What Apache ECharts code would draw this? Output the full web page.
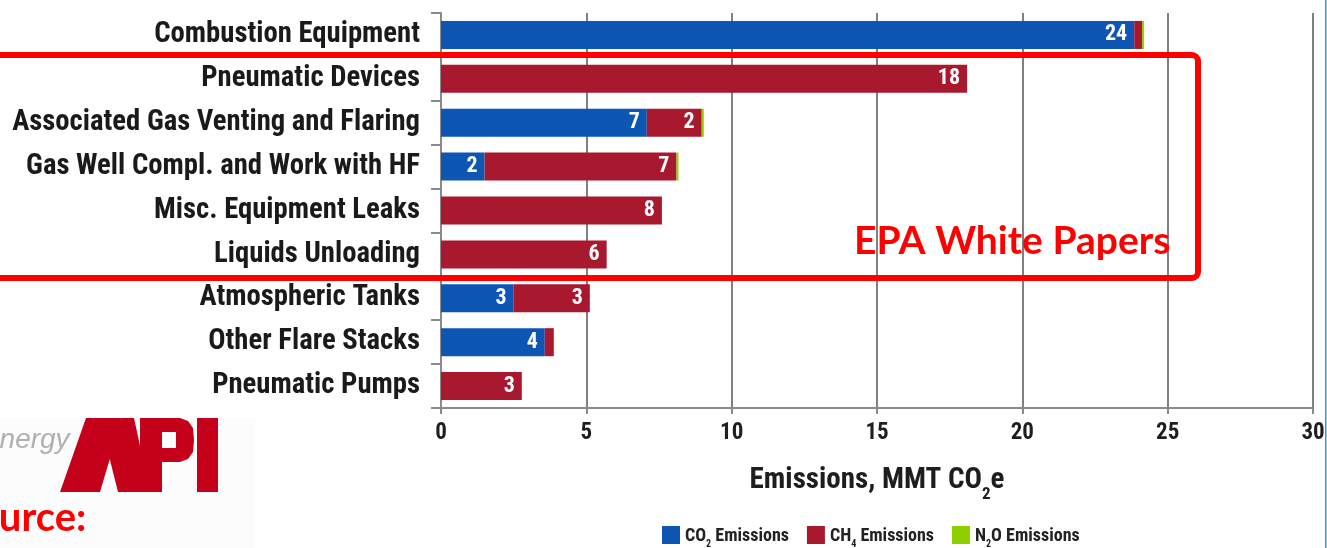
<!DOCTYPE html>
<html><head><meta charset="utf-8">
<script src="https://cdn.jsdelivr.net/npm/echarts@6/dist/echarts.min.js"></script>
<style>html,body{margin:0;padding:0;background:#fff}#c{width:1327px;height:548px}</style>
</head><body><div id="c"></div>
<script>
const categories = ["Combustion Equipment","Pneumatic Devices","Associated Gas Venting and Flaring","Gas Well Compl. and Work with HF","Misc. Equipment Leaks","Liquids Unloading","Atmospheric Tanks","Other Flare Stacks","Pneumatic Pumps"];
const co2 = [23.85, 0, 7.08, 1.5, 0, 0, 2.5, 3.57, 0];
const ch4 = [0.27, 18.1, 1.89, 6.6, 7.6, 5.7, 2.62, 0.31, 2.78];
const n2o = [0.07, 0, 0.07, 0.07, 0, 0, 0, 0, 0];
const xTicks = [0, 5, 10, 15, 20, 25, 30];
const seriesNames = ["CO2 Emissions","CH4 Emissions","N2O Emissions"];

const FONT = '"Roboto Condensed","DejaVu Sans Condensed",sans-serif';
const colors = ['#0d56b4','#a8182e','#8fcf00'];
const chart = echarts.init(document.getElementById('c'));
const lbl = {
  show: true, position: 'insideRight', distance: 7, color: '#fff',
  fontFamily: FONT, fontWeight: 'bold', fontSize: 22,
  formatter: p => p.value >= 1 ? String(Math.round(p.value)) : ''
};
function mk(name, data, i, label) {
  return { name, type: 'bar', stack: 't', data, barWidth: 28,
    itemStyle: { color: colors[i] }, label: label ? lbl : { show: false }, silent: true };
}
chart.setOption({
  animation: false,
  grid: { left: 441, right: 14, top: 13, bottom: 140, containLabel: false, outerBoundsMode: 'none' },
  xAxis: {
    type: 'value', min: 0, max: 30, interval: 5,
    axisLine: { show: true, lineStyle: { color: '#8a8a8a', width: 2 } },
    axisTick: { show: true, length: 6, lineStyle: { color: '#8a8a8a', width: 2 } },
    splitLine: { show: true, lineStyle: { color: '#808080', width: 2 } },
    axisLabel: { color: '#1e1e1e', fontFamily: FONT, fontWeight: 'bold', fontSize: 23, margin: 14,
      formatter: v => xTicks.includes(v) ? String(v) : '' },
    name: '{a|Emissions, MMT CO}{s|2}{a|e}', nameLocation: 'middle', nameGap: 55,
    nameTextStyle: { rich: {
      a: { fontFamily: FONT, fontWeight: 'bold', fontSize: 29, color: '#1e1e1e', verticalAlign: 'bottom', lineHeight: 32 },
      s: { fontFamily: FONT, fontWeight: 'bold', fontSize: 17, color: '#1e1e1e', verticalAlign: 'bottom', lineHeight: 32, padding: [0,0,-8,0] }
    } }
  },
  yAxis: {
    type: 'category', data: categories, inverse: true,
    axisLine: { show: true, lineStyle: { color: '#8a8a8a', width: 2 } },
    axisTick: { show: true, length: 10, lineStyle: { color: '#8a8a8a', width: 2 } },
    axisLabel: { color: '#1a1a1a', fontFamily: FONT, fontWeight: 'bold', fontSize: 28.7, margin: 21 }
  },
  legend: {
    top: 521, left: 657, itemWidth: 18, itemHeight: 18, itemGap: 18, icon: 'rect',
    data: seriesNames,
    formatter: n => {
      const m = n.match(/^([A-Z]+)(\d)(.*)$/);
      return '{a|' + m[1] + '}{s|' + m[2] + '}{a|' + m[3] + '}';
    },
    textStyle: { rich: {
      a: { fontFamily: FONT, fontWeight: 'bold', fontSize: 18, color: '#222', verticalAlign: 'bottom', lineHeight: 20 },
      s: { fontFamily: FONT, fontWeight: 'bold', fontSize: 10, color: '#222', verticalAlign: 'bottom', lineHeight: 20, padding: [0,0,-4,0] }
    } }
  },
  series: [mk(seriesNames[0], co2, 0, true), mk(seriesNames[1], ch4, 1, true), mk(seriesNames[2], n2o, 2, false)],
  graphic: [
    { type: 'rect', z: 100, shape: { x: -10, y: 55, width: 1208, height: 223, r: 6 },
      style: { fill: 'none', stroke: '#ff0000', lineWidth: 6 }, silent: true },
    { type: 'text', z: 100, x: 854, y: 241, style: { text: 'EPA White Papers', fill: '#ff0000',
      font: 'bold 39px Lato, "Open Sans", sans-serif', verticalAlign: 'middle' } },
    { type: 'rect', z: 90, shape: { x: 0, y: 418, width: 255, height: 130 }, style: { fill: '#fcfcfc' } },
    { type: 'text', z: 100, x: -16, y: 440, style: { text: 'energy', fill: '#b0b0b0',
      font: 'italic 28px "Liberation Sans", sans-serif', verticalAlign: 'middle' } },
    { type: 'polygon', z: 100, shape: { points: [[86,418],[122,418],[100,492],[60,492]] }, style: { fill: '#c4001a' } },
    { type: 'polygon', z: 100, shape: { points: [[122,418],[134,418],[150,492],[118,492],[108,452]] }, style: { fill: '#c4001a' } },
    { type: 'polygon', z: 100, shape: { points: [[140,418],[180,418],[188,421],[193,428],[194,440],[193,452],[188,459],[180,462],[162,462],[162,492],[140,492]] }, style: { fill: '#c4001a' } },
    { type: 'rect', z: 101, shape: { x: 162, y: 432, width: 14, height: 16 }, style: { fill: '#fcfcfc' } },
    { type: 'rect', z: 100, shape: { x: 197, y: 418, width: 21, height: 74 }, style: { fill: '#c4001a' } },
    { type: 'text', z: 100, x: -46, y: 538, style: { text: 'Source:', fill: '#ff0000',
      font: 'bold 40px Lato, "Open Sans", sans-serif', verticalAlign: 'bottom' } },
    { type: 'rect', z: 100, shape: { x: 1325, y: 0, width: 1.5, height: 548 }, style: { fill: '#1ea0e0' } }
  ]
});
</script></body></html>
